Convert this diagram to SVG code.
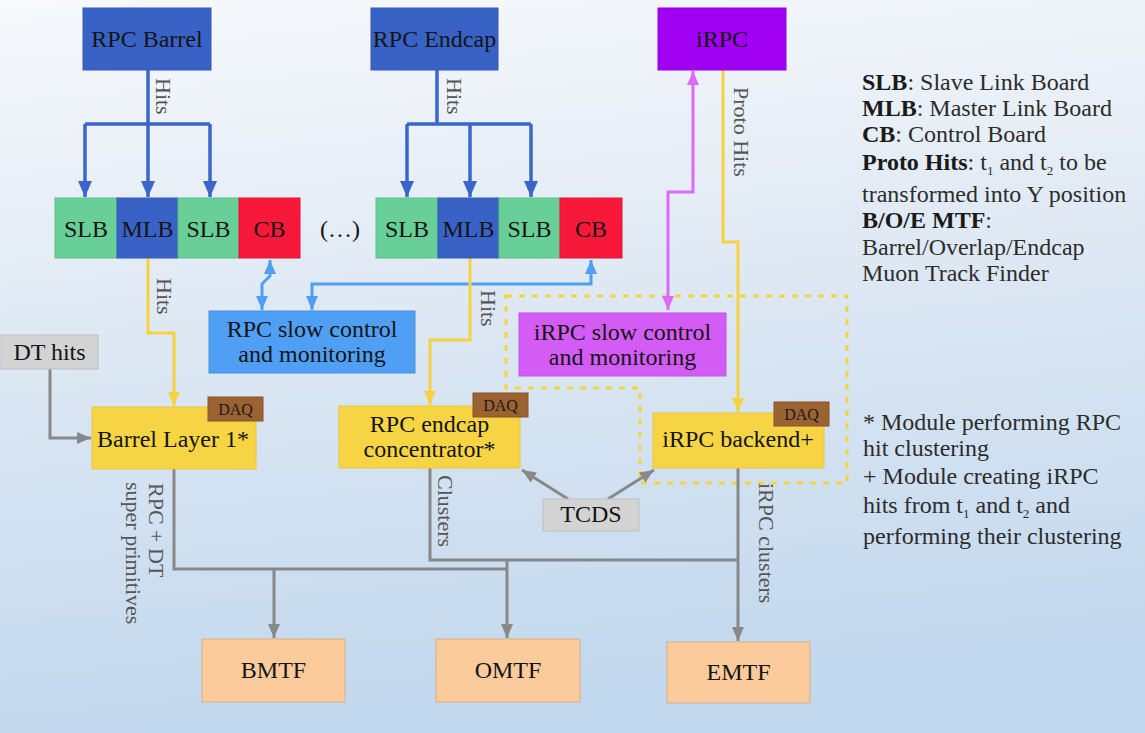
<svg xmlns="http://www.w3.org/2000/svg" width="1145" height="733" viewBox="0 0 1145 733">
<defs>
<linearGradient id="bg" x1="0" y1="0" x2="0.15" y2="1">
<stop offset="0" stop-color="#f7f9fc"/>
<stop offset="0.5" stop-color="#dce7f3"/>
<stop offset="1" stop-color="#c2d8ee"/>
</linearGradient>
<marker id="aDB" markerUnits="userSpaceOnUse" markerWidth="16" markerHeight="16" refX="16" refY="7" orient="auto-start-reverse" viewBox="0 0 16 14"><path d="M0,0 L16,7 L0,14 z" fill="#3a66cc"/></marker>
<marker id="aLB" markerUnits="userSpaceOnUse" markerWidth="14" markerHeight="14" refX="14" refY="6" orient="auto-start-reverse" viewBox="0 0 14 12"><path d="M0,0 L14,6 L0,12 z" fill="#4f9ff5"/></marker>
<marker id="aY" markerUnits="userSpaceOnUse" markerWidth="14" markerHeight="14" refX="14" refY="6" orient="auto-start-reverse" viewBox="0 0 14 12"><path d="M0,0 L14,6 L0,12 z" fill="#f6d23f"/></marker>
<marker id="aP" markerUnits="userSpaceOnUse" markerWidth="14" markerHeight="14" refX="14" refY="6" orient="auto-start-reverse" viewBox="0 0 14 12"><path d="M0,0 L14,6 L0,12 z" fill="#db6bf7"/></marker>
<marker id="aG" markerUnits="userSpaceOnUse" markerWidth="14" markerHeight="14" refX="14" refY="6" orient="auto-start-reverse" viewBox="0 0 14 12"><path d="M0,0 L14,6 L0,12 z" fill="#888888"/></marker>
</defs>
<style>
text{font-family:"Liberation Serif","Times New Roman",serif;}
.t{font-size:24px;fill:#141414;text-anchor:middle;}
.daq{font-size:16px;fill:#1a1a1a;text-anchor:middle;}
.vl{font-size:22px;fill:#555555;}
.lg{font-size:24px;fill:#2c2c2c;}
.bd{font-weight:bold;fill:#1a1a1a;}
.sub{font-size:13px;}
.dblue{fill:#3962c6;stroke:#3459b5;stroke-width:1;}
.green{fill:#68cf98;stroke:#5dbf8b;stroke-width:1;}
.red{fill:#f8193a;stroke:#e01535;stroke-width:1;}
.purple{fill:#a200f3;stroke:#9400de;stroke-width:1;}
.mag{fill:#d45cf6;stroke:#c451e6;stroke-width:1;}
.lblue{fill:#4f9ff5;stroke:#4690e0;stroke-width:1;}
.yel{fill:#f7d443;stroke:#e8c53a;stroke-width:1;}
.brown{fill:#9b6232;stroke:#8a5529;stroke-width:1;}
.gray{fill:#d3d3d3;stroke:#bfbfbf;stroke-width:1;}
.orange{fill:#fccb9c;stroke:#d9ae86;stroke-width:1;}
.cdb{fill:none;stroke:#3a66cc;stroke-width:3.5;}
.clb{fill:none;stroke:#4f9ff5;stroke-width:3;}
.cy{fill:none;stroke:#f6d23f;stroke-width:3;}
.cp{fill:none;stroke:#db6bf7;stroke-width:3;}
.cg{fill:none;stroke:#888888;stroke-width:3;}
</style>
<rect x="0" y="0" width="1145" height="733" fill="url(#bg)"/>

<g id="irpc-region">
<path d="M506,296 H847 V483 H640 V388 H506 Z" fill="none" stroke="#f5d442" stroke-width="3" stroke-dasharray="6 7"/>
</g>

<g id="connectors">
<path class="cdb" d="M148,70 V124" stroke-width="6"/>
<path class="cdb" d="M85,124 H210"/>
<path class="cdb" d="M85,124 V197" marker-end="url(#aDB)"/>
<path class="cdb" d="M148,124 V197" marker-end="url(#aDB)"/>
<path class="cdb" d="M210,124 V197" marker-end="url(#aDB)"/>
<path class="cdb" d="M437,70 V124" stroke-width="6"/>
<path class="cdb" d="M407,124 H531"/>
<path class="cdb" d="M407,124 V197" marker-end="url(#aDB)"/>
<path class="cdb" d="M470,124 V197" marker-end="url(#aDB)"/>
<path class="cdb" d="M531,124 V197" marker-end="url(#aDB)"/>
<path class="clb" d="M270,260 V276 L262,284 V310" marker-start="url(#aLB)" marker-end="url(#aLB)"/>
<path class="clb" d="M591,260 V284 H312 V310" marker-start="url(#aLB)" marker-end="url(#aLB)"/>
<path class="cy" d="M148,258 V333 H174 V406" marker-end="url(#aY)"/>
<path class="cy" d="M470,258 V340 H430 V405" marker-end="url(#aY)"/>
<path class="cy" d="M723,70 V242 H738 V412" marker-end="url(#aY)"/>
<path class="cp" d="M668,310 V192 H693 V71" marker-start="url(#aP)" marker-end="url(#aP)"/>
<path class="cg" d="M50,369 V438 H91" marker-end="url(#aG)"/>
<path class="cg" d="M174,469 V569 H507"/>
<path class="cg" d="M274,569 V638" marker-end="url(#aG)"/>
<path class="cg" d="M430,468 V560 H738"/>
<path class="cg" d="M507,560 V638" marker-end="url(#aG)"/>
<path class="cg" d="M738,468 V641" marker-end="url(#aG)"/>
<path class="cg" d="M568,499 L522,470" marker-end="url(#aG)"/>
<path class="cg" d="M608,499 L654,470" marker-end="url(#aG)"/>
<text class="vl" transform="translate(156,78) rotate(90)">Hits</text>
<text class="vl" transform="translate(447,78) rotate(90)">Hits</text>
<text class="vl" transform="translate(734,87) rotate(90)">Proto Hits</text>
<text class="vl" transform="translate(157,278) rotate(90)">Hits</text>
<text class="vl" transform="translate(481,290) rotate(90)">Hits</text>
<text class="vl" transform="translate(149,483) rotate(90)">RPC + DT</text>
<text class="vl" transform="translate(126,482) rotate(90)">super primitives</text>
<text class="vl" transform="translate(438,475) rotate(90)">Clusters</text>
<text class="vl" transform="translate(759,483) rotate(90)">iRPC clusters</text>
</g>

<g id="rpc-barrel"><rect class="dblue" x="83" y="8" width="128" height="62"/><text class="t" x="147" y="47">RPC Barrel</text></g>
<g id="rpc-endcap"><rect class="dblue" x="371" y="8" width="127" height="62"/><text class="t" x="434.5" y="47">RPC Endcap</text></g>
<g id="irpc"><rect class="purple" x="658" y="8" width="128" height="62"/><text class="t" x="722" y="47">iRPC</text></g>

<g id="barrel-slb1"><rect class="green" x="55" y="198" width="62" height="60"/><text class="t" x="86" y="237">SLB</text></g>
<g id="barrel-mlb"><rect class="dblue" x="117" y="198" width="61" height="60"/><text class="t" x="147.5" y="237">MLB</text></g>
<g id="barrel-slb2"><rect class="green" x="178" y="198" width="61" height="60"/><text class="t" x="208.5" y="237">SLB</text></g>
<g id="barrel-cb"><rect class="red" x="239" y="198" width="61" height="60"/><text class="t" x="269.5" y="237">CB</text></g>

<g id="ellipsis"><text class="t" x="340" y="237" fill="#333">(…)</text></g>

<g id="endcap-slb1"><rect class="green" x="376" y="198" width="62" height="60"/><text class="t" x="407" y="237">SLB</text></g>
<g id="endcap-mlb"><rect class="dblue" x="438" y="198" width="61" height="60"/><text class="t" x="468.5" y="237">MLB</text></g>
<g id="endcap-slb2"><rect class="green" x="499" y="198" width="61" height="60"/><text class="t" x="529.5" y="237">SLB</text></g>
<g id="endcap-cb"><rect class="red" x="560" y="198" width="62" height="60"/><text class="t" x="591" y="237">CB</text></g>

<g id="rpc-slow-control"><rect class="lblue" x="209" y="311" width="206" height="62"/><text class="t" x="312" y="337">RPC slow control</text><text class="t" x="312" y="362">and monitoring</text></g>
<g id="irpc-slow-control"><rect class="mag" x="519" y="313" width="207" height="63"/><text class="t" x="622.5" y="340">iRPC slow control</text><text class="t" x="622.5" y="365">and monitoring</text></g>

<g id="dt-hits"><rect class="gray" x="1" y="335" width="97" height="34"/><text class="t" x="49.5" y="360">DT hits</text></g>

<g id="barrel-layer1"><rect class="yel" x="92" y="407" width="164" height="62"/><text class="t" x="173" y="447">Barrel Layer 1*</text>
<rect class="brown" x="208" y="397" width="55" height="24"/><text class="daq" x="235.5" y="415">DAQ</text></g>

<g id="endcap-concentrator"><rect class="yel" x="339" y="406" width="181" height="62"/><text class="t" x="429.5" y="432">RPC endcap</text><text class="t" x="429.5" y="457">concentrator*</text>
<rect class="brown" x="473" y="393" width="55" height="24"/><text class="daq" x="500.5" y="411">DAQ</text></g>

<g id="irpc-backend"><rect class="yel" x="653" y="413" width="171" height="55"/><text class="t" x="738" y="447">iRPC backend+</text>
<rect class="brown" x="774" y="402" width="55" height="24"/><text class="daq" x="801.5" y="420">DAQ</text></g>

<g id="tcds"><rect class="gray" x="543" y="499" width="96" height="32"/><text class="t" x="591" y="522">TCDS</text></g>

<g id="bmtf"><rect class="orange" x="202" y="639" width="143" height="63"/><text class="t" x="273.5" y="678">BMTF</text></g>
<g id="omtf"><rect class="orange" x="436" y="639" width="144" height="63"/><text class="t" x="508" y="678">OMTF</text></g>
<g id="emtf"><rect class="orange" x="667" y="642" width="143" height="61"/><text class="t" x="738.5" y="680">EMTF</text></g>

<g id="legend-abbrev">
<text class="lg" x="862" y="90"><tspan class="bd">SLB</tspan>: Slave Link Board</text>
<text class="lg" x="862" y="116"><tspan class="bd">MLB</tspan>: Master Link Board</text>
<text class="lg" x="862" y="142"><tspan class="bd">CB</tspan>: Control Board</text>
<text class="lg" x="862" y="170"><tspan class="bd">Proto Hits</tspan>: t<tspan class="sub" dy="5">1</tspan><tspan dy="-5"> and t</tspan><tspan class="sub" dy="5">2</tspan><tspan dy="-5"> to be</tspan></text>
<text class="lg" x="862" y="202">transformed into Y position</text>
<text class="lg" x="862" y="228"><tspan class="bd">B/O/E MTF</tspan>:</text>
<text class="lg" x="862" y="255">Barrel/Overlap/Endcap</text>
<text class="lg" x="862" y="281">Muon Track Finder</text>
</g>

<g id="legend-modules">
<text class="lg" x="863" y="430">* Module performing RPC</text>
<text class="lg" x="863" y="456">hit clustering</text>
<text class="lg" x="863" y="484">+ Module creating iRPC</text>
<text class="lg" x="863" y="513">hits from t<tspan class="sub" dy="5">1</tspan><tspan dy="-5"> and t</tspan><tspan class="sub" dy="5">2</tspan><tspan dy="-5"> and</tspan></text>
<text class="lg" x="863" y="544">performing their clustering</text>
</g>
</svg>
